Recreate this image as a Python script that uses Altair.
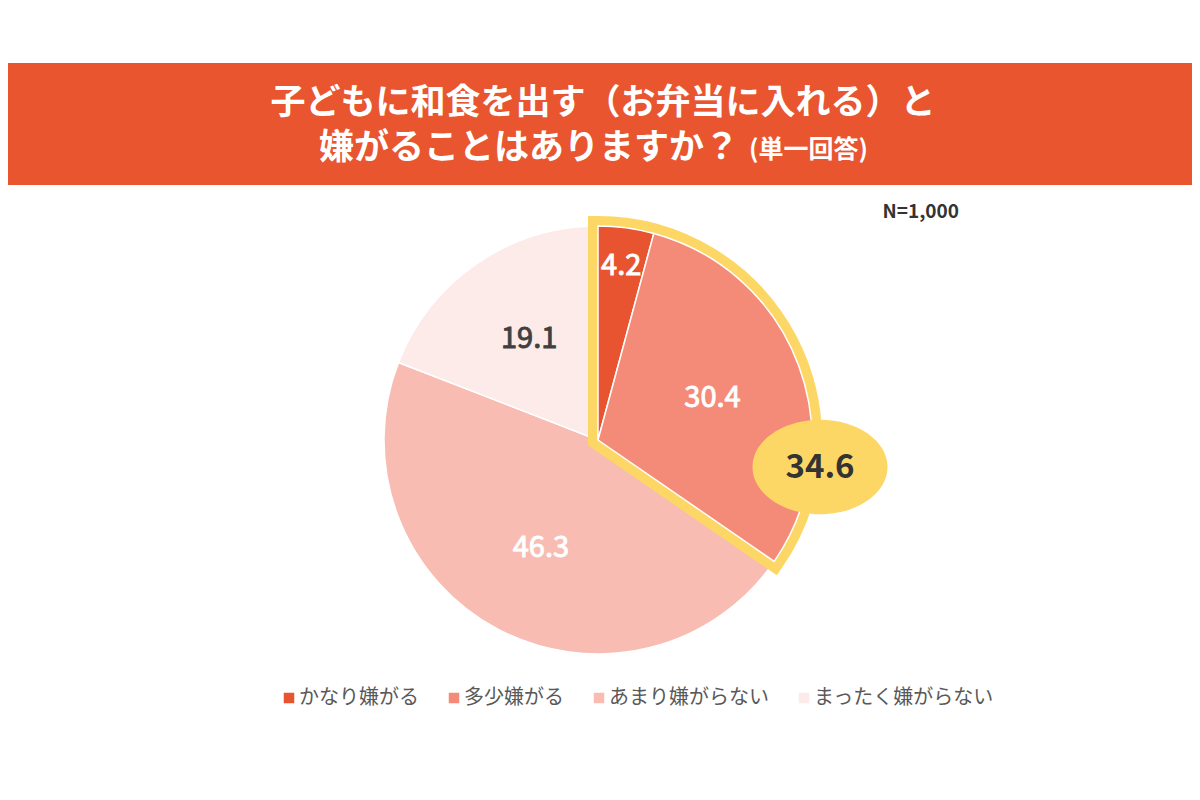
import json
import altair as alt
import pandas as pd

# ---- data ----
categories = ["かなり嫌がる", "多少嫌がる", "あまり嫌がらない", "まったく嫌がらない"]
values = [4.2, 30.4, 46.3, 19.1]
colors = ["#E8542F", "#F48B78", "#F8BCB2", "#FDEBEA"]
highlight = ["かなり嫌がる", "多少嫌がる"]
title_line1 = "子どもに和食を出す（お弁当に入れる）と"
title_line2 = "嫌がることはありますか？"
title_note = "(単一回答)"
sample_note = "N=1,000"

df = pd.DataFrame({"category": categories, "value": values, "order": list(range(1, len(values) + 1))})

FONT = "Noto Sans CJK JP"
BANNER = "#E8552F"
YELLOW = "#FDD766"
W, H = 1184, 784
CX, CY, R = 590, 432, 214
TAU = 6.283185307179586

theta_scale = alt.Scale(domain=[0, 100], range=[0, TAU])
color_scale = alt.Scale(domain=categories, range=colors)
hl_expr = f"indexof({json.dumps(highlight, ensure_ascii=False)}, datum.category) >= 0"

legend = alt.Legend(
    orient="none", legendX=271, legendY=680, direction="horizontal", title=None,
    symbolType="square", symbolSize=110, symbolStrokeWidth=0, symbolOpacity=1,
    labelFont=FONT, labelFontSize=20, labelColor="#595959", labelLimit=400,
    columnPadding=25, labelOffset=0, columns=4,
)

base = alt.Chart(df).transform_window(
    cum="sum(value)", sort=[alt.SortField("order")], frame=[None, 0]
).transform_calculate(
    start="datum.cum - datum.value",
    mid="datum.cum - datum.value / 2",
    lr="datum.value < 10 ? 176 : 122",
)


def arcs(expr):
    return base.transform_filter(expr).mark_arc(
        outerRadius=R, stroke="white", strokeWidth=1.5
    ).encode(
        theta=alt.Theta("start:Q", scale=theta_scale),
        theta2="cum:Q",
        color=alt.Color("category:N", scale=color_scale, sort=categories, legend=legend),
        x=alt.value(CX), y=alt.value(CY),
    )


arcs_rest = arcs(f"!({hl_expr})")
arcs_hl = arcs(hl_expr)

hl_base = alt.Chart(df).transform_filter(hl_expr).transform_aggregate(
    total="sum(value)"
).transform_calculate(zero="0")

wedge = hl_base.mark_arc(
    outerRadius=R, fill=YELLOW, stroke=YELLOW, strokeWidth=20, strokeJoin="miter"
).encode(
    theta=alt.Theta("zero:Q", scale=theta_scale), theta2="total:Q",
    x=alt.value(CX), y=alt.value(CY),
)

ELLIPSE = "M-1,0 A1,0.7,0,1,1,1,0 A1,0.7,0,1,1,-1,0 Z"
ellipse = hl_base.mark_point(
    shape=ELLIPSE, size=135 * 135, filled=True, fill=YELLOW, opacity=1, strokeWidth=0
).encode(x=alt.value(812), y=alt.value(459))

ellipse_text = hl_base.mark_text(
    font=FONT, fontSize=33, fontWeight="bold", color="#333333", baseline="middle"
).encode(text=alt.Text("total:Q", format=".1f"), x=alt.value(812), y=alt.value(460))

is_last = f"datum.category == '{categories[-1]}'"
labels = base.mark_text(
    font=FONT, fontSize=29, fontWeight="normal", baseline="middle", strokeWidth=0.9
).encode(
    theta=alt.Theta("mid:Q", scale=theta_scale),
    radius=alt.Radius("lr:Q", scale=None),
    text=alt.Text("value:Q", format=".1f"),
    color=alt.condition(is_last, alt.value("#404040"), alt.value("white")),
    stroke=alt.condition(is_last, alt.value("#404040"), alt.value("white")),
    x=alt.value(CX), y=alt.value(CY),
)

one = pd.DataFrame({"t1": [title_line1], "t2": [title_line2], "t3": [title_note], "n": [sample_note]})
banner = alt.Chart(one).mark_rect(color=BANNER).encode(
    x=alt.value(0), x2=alt.value(W), y=alt.value(55), y2=alt.value(177)
)
t1 = alt.Chart(one).mark_text(font=FONT, fontSize=35, fontWeight="bold", color="white", baseline="middle").encode(
    text="t1:N", x=alt.value(W / 2 + 3), y=alt.value(95)
)
t2 = alt.Chart(one).mark_text(font=FONT, fontSize=35, fontWeight="bold", color="white", baseline="middle", align="right").encode(
    text="t2:N", x=alt.value(731), y=alt.value(140)
)
t3 = alt.Chart(one).mark_text(font=FONT, fontSize=25, fontWeight="bold", color="white", baseline="middle", align="left").encode(
    text="t3:N", x=alt.value(741), y=alt.value(142)
)
nn = alt.Chart(one).mark_text(font=FONT, fontSize=19, fontWeight="bold", color="#333333", baseline="middle", align="right").encode(
    text="n:N", x=alt.value(951), y=alt.value(204)
)

chart = alt.layer(
    banner, t1, t2, t3, nn, arcs_rest, wedge, arcs_hl, labels, ellipse, ellipse_text
).properties(
    width=W, height=H, padding=0, autosize="none", background="white"
).configure_view(strokeWidth=0)

chart.save("out.html", embed_options={"renderer": "svg", "actions": False})
